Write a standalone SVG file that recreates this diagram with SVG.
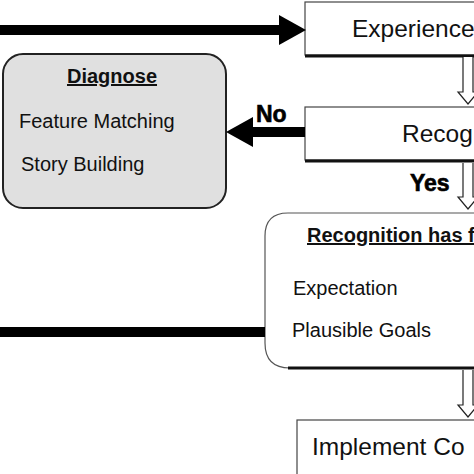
<svg xmlns="http://www.w3.org/2000/svg" width="474" height="474" viewBox="0 0 474 474">
<style>
.big{font-family:"Liberation Sans",Arial,sans-serif;font-size:24.5px;fill:#111}
.item{font-family:"Liberation Sans",Arial,sans-serif;font-size:20px;fill:#111}
.head{font-family:"Liberation Sans",Arial,sans-serif;font-size:20px;font-weight:bold;text-decoration:underline;fill:#111}
.lbl{font-family:"Liberation Sans",Arial,sans-serif;font-size:23px;font-weight:bold;fill:#000;stroke:#000;stroke-width:0.6}
.box{fill:#fff;stroke:#444;stroke-width:1.2}
.shadow{stroke:#111;stroke-width:3;fill:none}
.thick{stroke:#000;stroke-width:10;fill:none}
.hollow{fill:#fff;stroke:#222;stroke-width:1.2;stroke-linejoin:miter}
</style>
<defs>
<marker id="ah" markerUnits="userSpaceOnUse" markerWidth="27" markerHeight="30" refX="0" refY="15" orient="auto">
<path d="M0,0 L27,15 L0,30 z" fill="#000"/>
</marker>
</defs>
<rect width="474" height="474" fill="#fff"/>

<g id="experience">
<rect class="box" x="305" y="2" width="180" height="53"/>
<line class="shadow" x1="305" y1="56" x2="474" y2="56"/>
<text class="big" x="352" y="37">Experience</text>
</g>

<g id="recog">
<rect class="box" x="305" y="107" width="180" height="53"/>
<line class="shadow" x1="305" y1="161" x2="474" y2="161"/>
<text class="big" x="402" y="142">Recog</text>
</g>

<g id="diagnose">
<rect x="3" y="54" width="223" height="154" rx="20" ry="20" fill="#e0e0e0" stroke="#222" stroke-width="2"/>
<text class="head" x="112" y="83" text-anchor="middle">Diagnose</text>
<text class="item" x="19" y="128">Feature Matching</text>
<text class="item" x="21" y="171">Story Building</text>
</g>

<g id="recognition">
<path d="M490,213 H288 Q265,213 265,236 V343 Q265,368 290,368 H490" fill="#fff" stroke="#555" stroke-width="1.2"/>
<line class="shadow" x1="288" y1="368" x2="474" y2="368"/>
<text class="head" x="307" y="242">Recognition has f</text>
<text class="item" x="293" y="295">Expectation</text>
<text class="item" x="292" y="337">Plausible Goals</text>
</g>

<g id="implement">
<rect class="box" x="297" y="420" width="190" height="70"/>
<text class="big" x="312" y="455">Implement Co</text>
</g>

<g id="connectors">
<line class="thick" x1="0" y1="30" x2="279" y2="30" marker-end="url(#ah)"/>
<line class="thick" x1="305" y1="132" x2="253" y2="132" marker-end="url(#ah)"/>
<line class="thick" x1="0" y1="332" x2="265" y2="332"/>
<path class="hollow" d="M463,57 V92 H458 L468,104 L478,92 H473 V57"/>
<path class="hollow" d="M463,163 V197 H458 L468,209 L478,197 H473 V163"/>
<path class="hollow" d="M463,370 V405 H458 L468,417 L478,405 H473 V370"/>
<text class="lbl" x="256" y="122">No</text>
<text class="lbl" x="410" y="191">Yes</text>
</g>
</svg>
